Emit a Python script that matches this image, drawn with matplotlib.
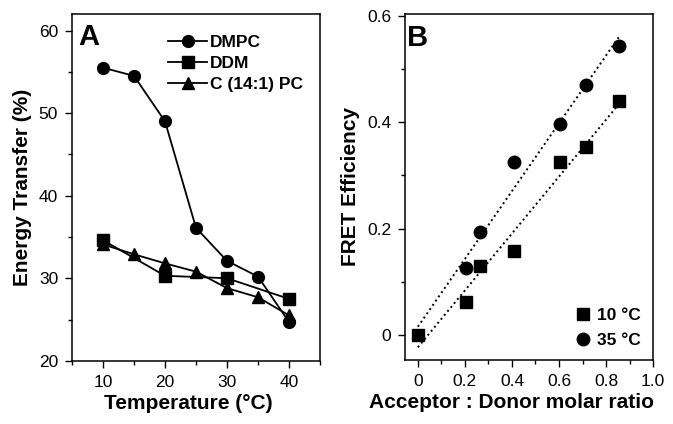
"""
Energy transfer vs temperature (A) and FRET efficiency vs acceptor:donor ratio (B).
"""

import numpy as np
import matplotlib
matplotlib.use('Agg')
import matplotlib.pyplot as plt
from matplotlib.ticker import MultipleLocator

plt.rcParams['font.family'] = ['Liberation Sans', 'DejaVu Sans']

# Panel A data
temp = [10, 15, 20, 25, 30, 35, 40]
dmpc = [55.5, 54.5, 49.0, 36.1, 32.1, 30.2, 24.7]
ddm_temp = [10, 20, 30, 40]
ddm = [34.6, 30.3, 30.0, 27.5]
c141pc = [34.1, 32.9, 31.8, 30.8, 28.8, 27.7, 25.5]

# Panel B data
ratio_10 = [0.0, 0.204, 0.264, 0.409, 0.604, 0.713, 0.856]
fret_10 = [0.0, 0.061, 0.130, 0.158, 0.325, 0.354, 0.440]
ratio_35 = [0.204, 0.264, 0.409, 0.604, 0.713, 0.856]
fret_35 = [0.125, 0.193, 0.325, 0.396, 0.470, 0.542]

fig = plt.figure(figsize=(6.73, 4.24), dpi=100)
axA = fig.add_axes([0.107, 0.149, 0.3685, 0.818])
axB = fig.add_axes([0.602, 0.151, 0.3685, 0.816])


def style_axes(ax):
    for sp in ax.spines.values():
        sp.set_linewidth(1.1)
    ax.tick_params(which='both', direction='out', top=False, right=False,
                   labelsize=12.5, width=1.0)
    ax.tick_params(which='major', length=5, pad=5)
    ax.tick_params(which='minor', length=3)


# ---- Panel A ----
mk = dict(color='black', linewidth=1.3, markersize=8.5)
axA.plot(temp, dmpc, marker='o', label='DMPC', **mk)
axA.plot(ddm_temp, ddm, marker='s', label='DDM', **mk)
axA.plot(temp, c141pc, marker='^', label='C (14:1) PC', **mk)
axA.set_xlim(5, 45)
axA.set_ylim(20, 62)
axA.xaxis.set_major_locator(MultipleLocator(10))
axA.xaxis.set_minor_locator(MultipleLocator(5))
axA.yaxis.set_major_locator(MultipleLocator(10))
axA.yaxis.set_minor_locator(MultipleLocator(5))
style_axes(axA)
axA.set_xlabel('Temperature (°C)', fontsize=15, fontweight='bold', labelpad=5)
axA.xaxis.set_label_coords(0.47, -0.095)
axA.set_ylabel('Energy Transfer (%)', fontsize=15, fontweight='bold', labelpad=5)
axA.text(0.025, 0.975, 'A', transform=axA.transAxes, fontsize=21,
         fontweight='bold', va='top', ha='left')
axA.legend(loc='upper left', bbox_to_anchor=(0.34, 0.975), frameon=False,
           prop={'weight': 'bold', 'size': 12.5}, handlelength=2.2,
           handletextpad=0.2, labelspacing=0.33, borderaxespad=0.3)

# ---- Panel B ----
axB.plot(ratio_10, fret_10, 's', color='black', markersize=8.5, label='10 °C')
axB.plot(ratio_35, fret_35, 'o', color='black', markersize=9, label='35 °C')

xfit = np.array([0.0, 0.86])
p10 = np.polyfit(ratio_10, fret_10, 1)
p35 = np.polyfit([0.0] + ratio_35, [0.0] + fret_35, 1)
axB.plot(xfit, np.polyval(p10, xfit), ':', color='black', linewidth=1.4)
axB.plot(xfit, np.polyval(p35, xfit), ':', color='black', linewidth=1.4)

axB.set_xlim(-0.054, 1.0)
axB.set_ylim(-0.047, 0.603)
axB.xaxis.set_minor_locator(MultipleLocator(0.1))
axB.yaxis.set_minor_locator(MultipleLocator(0.1))
axB.set_xticks([0, 0.2, 0.4, 0.6, 0.8, 1.0])
axB.set_xticklabels(['0', '0.2', '0.4', '0.6', '0.8', '1.0'])
axB.set_yticks([0, 0.2, 0.4, 0.6])
axB.set_yticklabels(['0', '0.2', '0.4', '0.6'])
style_axes(axB)
axB.set_xlabel('Acceptor : Donor molar ratio', fontsize=15, fontweight='bold')
axB.xaxis.set_label_coords(0.43, -0.095)
axB.set_ylabel('FRET Efficiency', fontsize=15, fontweight='bold', labelpad=5)
axB.text(0.008, 0.97, 'B', transform=axB.transAxes, fontsize=21,
         fontweight='bold', va='top', ha='left')
axB.legend(loc='lower right', frameon=False, prop={'weight': 'bold', 'size': 12.5},
           handlelength=1.0, handletextpad=0.3, labelspacing=0.55,
           borderaxespad=0.3)

fig.savefig('out.png', dpi=100)
